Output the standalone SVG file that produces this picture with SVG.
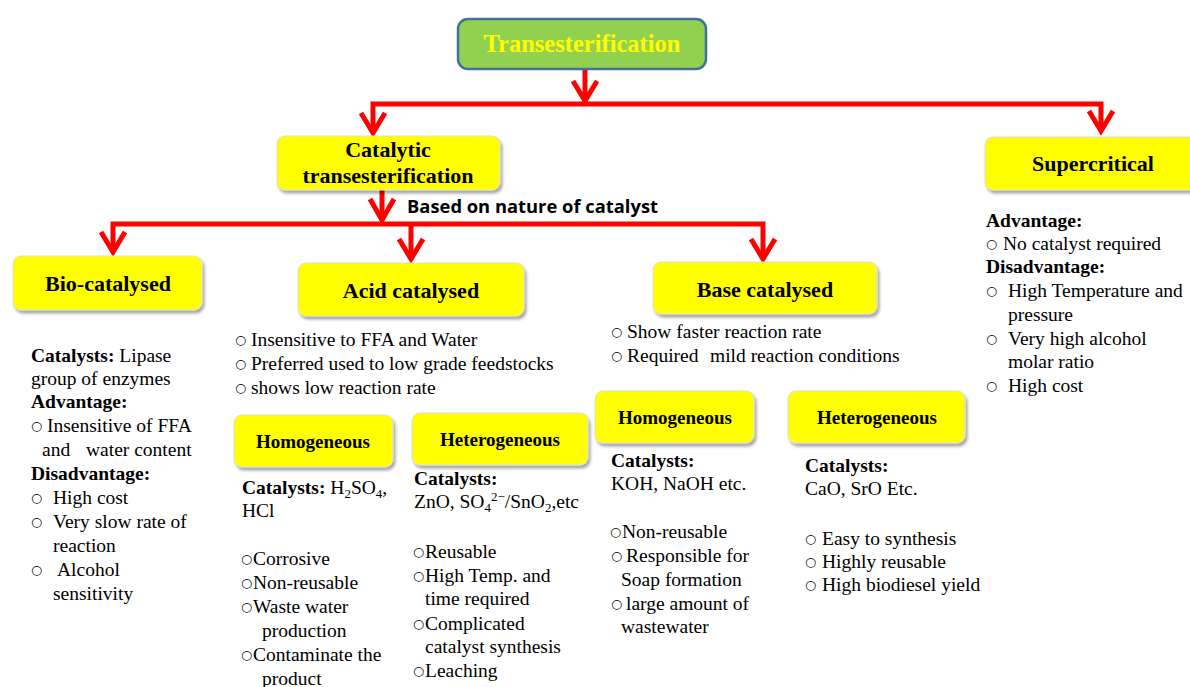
<svg xmlns="http://www.w3.org/2000/svg" width="1190" height="687" viewBox="0 0 1190 687">
<defs>
<filter id="sh" x="-10%" y="-20%" width="130%" height="160%">
<feDropShadow dx="2" dy="3" stdDeviation="1.8" flood-color="#000" flood-opacity="0.35"/>
</filter>
</defs>
<style>
.box{fill:#FFFF00;stroke:#dcdcdc;stroke-width:1;filter:url(#sh)}
.lbl{font-family:"Liberation Serif","Times New Roman",serif;font-weight:bold;font-size:22px;fill:#000;text-anchor:middle}
.sub{font-family:"Liberation Serif","Times New Roman",serif;font-weight:bold;font-size:19px;fill:#000;text-anchor:middle}
.t{font-family:"Liberation Serif","Times New Roman",serif;font-size:19.5px;fill:#000}
.bd{font-weight:bold}
.bl{font-family:"DejaVu Sans",sans-serif;font-size:12.5px}
.ar{fill:none;stroke:#FF0000;stroke-width:5}
.sm{font-size:13px}
</style>

<g id="connectors">
<path class="ar" d="M585 69 V102"/>
<path class="ar" d="M573 81 L585 101 L597 81"/>
<path class="ar" d="M373 133 V104 H1101 V131"/>
<path class="ar" d="M361 113 L373 133 L385 113"/>
<path class="ar" d="M1089 111 L1101 131 L1113 111"/>
<path class="ar" d="M382 190 V221"/>
<path class="ar" d="M370 199 L382 220 L394 199"/>
<path class="ar" d="M113 252 V224 H763 V259"/>
<path class="ar" d="M101 232 L113 252 L125 232"/>
<path class="ar" d="M751 239 L763 259 L775 239"/>
<path class="ar" d="M411 224 V259"/>
<path class="ar" d="M399 239 L411 259 L423 239"/>
</g>

<g id="transesterification">
<rect x="458" y="19" width="248" height="50" rx="10" fill="#92D050" stroke="#41719C" stroke-width="2.5"/>
<text x="582" y="52" class="lbl" style="font-size:24.5px;fill:#FFFF00">Transesterification</text>
</g>

<g id="catalytic">
<rect class="box" x="277" y="136" width="223" height="54" rx="8"/>
<text x="388" y="157" class="lbl">Catalytic</text>
<text x="388" y="183" class="lbl">transesterification</text>
</g>
<text x="407" y="213" font-family="'Open Sans','Liberation Sans',sans-serif" font-weight="bold" font-size="17" textLength="251" lengthAdjust="spacingAndGlyphs">Based on nature of catalyst</text>

<g id="supercritical">
<rect class="box" x="985" y="137" width="220" height="53" rx="8"/>
<text x="1093" y="171" class="lbl">Supercritical</text>
</g>

<g id="bio">
<rect class="box" x="13" y="256" width="189" height="54" rx="8"/>
<text x="108" y="291" class="lbl">Bio-catalysed</text>
</g>

<g id="acid">
<rect class="box" x="298" y="263" width="226" height="53" rx="8"/>
<text x="411" y="298" class="lbl">Acid catalysed</text>
</g>

<g id="base">
<rect class="box" x="653" y="262" width="224" height="52" rx="8"/>
<text x="765" y="297" class="lbl">Base catalysed</text>
</g>

<g id="acid-homo">
<rect class="box" x="234" y="415" width="159" height="52" rx="8"/>
<text x="313" y="448" class="sub">Homogeneous</text>
</g>
<g id="acid-hetero">
<rect class="box" x="412" y="413" width="176" height="52" rx="8"/>
<text x="500" y="446" class="sub">Heterogeneous</text>
</g>
<g id="base-homo">
<rect class="box" x="595" y="391" width="159" height="52" rx="8"/>
<text x="675" y="424" class="sub">Homogeneous</text>
</g>
<g id="base-hetero">
<rect class="box" x="788" y="391" width="177" height="52" rx="8"/>
<text x="877" y="424" class="sub">Heterogeneous</text>
</g>

<g id="bio-text" class="t">
<text x="31" y="362"><tspan class="bd">Catalysts:</tspan> Lipase</text>
<text x="31" y="385">group of enzymes</text>
<text x="31" y="408" class="bd">Advantage:</text>
<text y="432"><tspan x="31" dy="-2" class="bl">○</tspan><tspan x="47" dy="2">Insensitive of FFA</tspan></text>
<text y="456"><tspan x="42">and</tspan><tspan x="86">water content</tspan></text>
<text x="31" y="480" class="bd">Disadvantage:</text>
<text y="504"><tspan x="31" dy="-2" class="bl">○</tspan><tspan x="53" dy="2">High cost</tspan></text>
<text y="528"><tspan x="31" dy="-2" class="bl">○</tspan><tspan x="53" dy="2">Very slow rate of</tspan></text>
<text x="53" y="552">reaction</text>
<text y="576"><tspan x="31" dy="-2" class="bl">○</tspan><tspan x="57" dy="2">Alcohol</tspan></text>
<text x="53" y="600">sensitivity</text>
</g>

<g id="acid-text" class="t">
<text y="346"><tspan x="235" dy="-2" class="bl">○</tspan><tspan x="251" dy="2">Insensitive to FFA and Water</tspan></text>
<text y="370"><tspan x="235" dy="-2" class="bl">○</tspan><tspan x="251" dy="2">Preferred used to low grade feedstocks</tspan></text>
<text y="394"><tspan x="235" dy="-2" class="bl">○</tspan><tspan x="251" dy="2">shows low reaction rate</tspan></text>
</g>

<g id="acid-homo-text" class="t">
<text x="242" y="494"><tspan class="bd">Catalysts:</tspan> H<tspan class="sm" dy="4">2</tspan><tspan dy="-4">SO</tspan><tspan class="sm" dy="4">4</tspan><tspan dy="-4">,</tspan></text>
<text x="242" y="517">HCl</text>
<text y="565"><tspan x="241" dy="-2" class="bl">○</tspan><tspan x="253" dy="2">Corrosive</tspan></text>
<text y="589"><tspan x="241" dy="-2" class="bl">○</tspan><tspan x="253" dy="2">Non-reusable</tspan></text>
<text y="613"><tspan x="241" dy="-2" class="bl">○</tspan><tspan x="253" dy="2">Waste water</tspan></text>
<text x="262" y="637">production</text>
<text y="661"><tspan x="241" dy="-2" class="bl">○</tspan><tspan x="253" dy="2">Contaminate the</tspan></text>
<text x="262" y="685">product</text>
</g>

<g id="acid-hetero-text" class="t">
<text x="414" y="485" class="bd">Catalysts:</text>
<text x="414" y="508">ZnO, SO<tspan class="sm" dy="4">4</tspan><tspan class="sm" dy="-11">2−</tspan><tspan dy="7">/SnO</tspan><tspan class="sm" dy="4">2</tspan><tspan dy="-4">,etc</tspan></text>
<text y="558"><tspan x="413" dy="-2" class="bl">○</tspan><tspan x="425" dy="2">Reusable</tspan></text>
<text y="582"><tspan x="413" dy="-2" class="bl">○</tspan><tspan x="425" dy="2">High Temp. and</tspan></text>
<text x="425" y="605">time required</text>
<text y="630"><tspan x="413" dy="-2" class="bl">○</tspan><tspan x="425" dy="2">Complicated</tspan></text>
<text x="425" y="653">catalyst synthesis</text>
<text y="677"><tspan x="413" dy="-2" class="bl">○</tspan><tspan x="425" dy="2">Leaching</tspan></text>
</g>

<g id="base-text" class="t">
<text y="338"><tspan x="611" dy="-2" class="bl">○</tspan><tspan x="627" dy="2">Show faster reaction rate</tspan></text>
<text y="362"><tspan x="611" dy="-2" class="bl">○</tspan><tspan x="627" dy="2">Required</tspan><tspan x="710">mild reaction conditions</tspan></text>
</g>

<g id="base-homo-text" class="t">
<text x="611" y="467" class="bd">Catalysts:</text>
<text x="611" y="490">KOH, NaOH etc.</text>
<text y="538"><tspan x="610" dy="-2" class="bl">○</tspan><tspan x="622" dy="2">Non-reusable</tspan></text>
<text y="562"><tspan x="611" dy="-2" class="bl">○</tspan><tspan x="626" dy="2">Responsible for</tspan></text>
<text x="621" y="586">Soap formation</text>
<text y="610"><tspan x="611" dy="-2" class="bl">○</tspan><tspan x="626" dy="2">large amount of</tspan></text>
<text x="621" y="633">wastewater</text>
</g>

<g id="base-hetero-text" class="t">
<text x="805" y="472" class="bd">Catalysts:</text>
<text x="805" y="495">CaO, SrO Etc.</text>
<text y="545"><tspan x="805" dy="-2" class="bl">○</tspan><tspan x="822" dy="2">Easy to synthesis</tspan></text>
<text y="568"><tspan x="805" dy="-2" class="bl">○</tspan><tspan x="822" dy="2">Highly reusable</tspan></text>
<text y="591"><tspan x="805" dy="-2" class="bl">○</tspan><tspan x="822" dy="2">High biodiesel yield</tspan></text>
</g>

<g id="supercritical-text" class="t">
<text x="986" y="227" class="bd">Advantage:</text>
<text y="250"><tspan x="986" dy="-2" class="bl">○</tspan><tspan x="1003" dy="2">No catalyst required</tspan></text>
<text x="986" y="273" class="bd">Disadvantage:</text>
<text y="297"><tspan x="986" dy="-2" class="bl">○</tspan><tspan x="1008" dy="2">High Temperature and</tspan></text>
<text x="1008" y="321">pressure</text>
<text y="345"><tspan x="986" dy="-2" class="bl">○</tspan><tspan x="1008" dy="2">Very high alcohol</tspan></text>
<text x="1008" y="368">molar ratio</text>
<text y="392"><tspan x="986" dy="-2" class="bl">○</tspan><tspan x="1008" dy="2">High cost</tspan></text>
</g>
</svg>
